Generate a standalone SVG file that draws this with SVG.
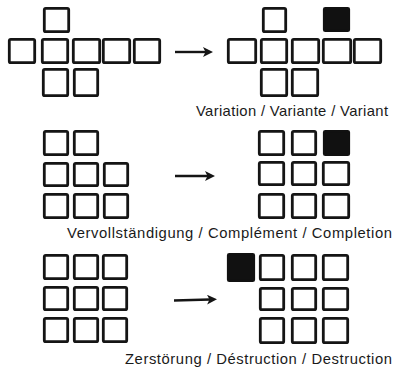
<svg xmlns="http://www.w3.org/2000/svg" width="396" height="371" viewBox="0 0 396 371">
<defs>
<style>
.b{fill:none;stroke:#151515;stroke-width:2.8;stroke-linejoin:round}
.k{fill:#111;stroke:#111;stroke-width:2.8;stroke-linejoin:round}
.c{stroke:#151515;stroke-width:2.4;fill:none}
.t{font-family:"Liberation Sans",Arial,Helvetica,sans-serif;font-size:14.8px;fill:#1a1a1a}
</style>
<marker id="ah" markerUnits="userSpaceOnUse" markerWidth="12" markerHeight="11" refX="3" refY="5" orient="auto">
<path d="M0,0 L10,5 L0,10 L2.5,5 z" fill="#151515"/>
</marker>
</defs>
<rect width="396" height="371" fill="#fff"/>

<g id="variation-before">
<rect class="b" x="44.3" y="8.3" width="24.4" height="23.4" rx="1.5"/>
<rect class="b" x="9.3" y="39.3" width="25.4" height="23.4" rx="1.5"/>
<rect class="b" x="42.3" y="39.3" width="25.4" height="23.4" rx="1.5"/>
<rect class="b" x="73.3" y="39.3" width="26.4" height="23.4" rx="1.5"/>
<rect class="b" x="103.3" y="39.3" width="26.4" height="23.4" rx="1.5"/>
<rect class="b" x="134.3" y="39.3" width="25.4" height="23.4" rx="1.5"/>
<rect class="b" x="43.3" y="69.3" width="24.4" height="26.4" rx="1.5"/>
<rect class="b" x="74.3" y="69.3" width="23.4" height="26.4" rx="1.5"/>
</g>

<g id="variation-after">
<rect class="b" x="263.3" y="8.3" width="22.4" height="23.4" rx="1.5"/>
<rect class="k" x="324.3" y="8.3" width="24.4" height="22.4" rx="1"/>
<rect class="b" x="228.3" y="39.3" width="27.4" height="23.4" rx="1.5"/>
<rect class="b" x="261.3" y="39.3" width="25.4" height="23.4" rx="1.5"/>
<rect class="b" x="292.3" y="39.3" width="26.4" height="23.4" rx="1.5"/>
<rect class="b" x="323.3" y="39.3" width="27.4" height="23.4" rx="1.5"/>
<rect class="b" x="354.3" y="39.3" width="26.4" height="23.4" rx="1.5"/>
<rect class="b" x="261.3" y="69.3" width="25.4" height="26.4" rx="1.5"/>
<rect class="b" x="292.3" y="69.3" width="25.4" height="26.4" rx="1.5"/>
</g>
<text id="label-variation" class="t" x="196" y="116" textLength="192" lengthAdjust="spacing">Variation / Variante / Variant</text>

<g id="completion-before">
<rect class="b" x="44.3" y="131.3" width="23.4" height="23.4" rx="1.5"/>
<rect class="b" x="74.3" y="131.3" width="23.4" height="23.4" rx="1.5"/>
<rect class="b" x="44.3" y="163.3" width="23.4" height="22.4" rx="1.5"/>
<rect class="b" x="74.3" y="163.3" width="23.4" height="22.4" rx="1.5"/>
<rect class="b" x="104.3" y="163.3" width="23.4" height="22.4" rx="1.5"/>
<rect class="b" x="44.3" y="194.3" width="23.4" height="23.4" rx="1.5"/>
<rect class="b" x="74.3" y="194.3" width="23.4" height="23.4" rx="1.5"/>
<rect class="b" x="104.3" y="194.3" width="23.4" height="23.4" rx="1.5"/>
</g>

<g id="completion-after">
<rect class="b" x="259.3" y="131.3" width="24.4" height="23.4" rx="1.5"/>
<rect class="b" x="292.3" y="131.3" width="23.4" height="23.4" rx="1.5"/>
<rect class="k" x="324.3" y="131.3" width="24.4" height="23.4" rx="1"/>
<rect class="b" x="259.3" y="162.3" width="24.4" height="22.4" rx="1.5"/>
<rect class="b" x="292.3" y="162.3" width="23.4" height="22.4" rx="1.5"/>
<rect class="b" x="323.3" y="162.3" width="25.4" height="22.4" rx="1.5"/>
<rect class="b" x="259.3" y="194.3" width="24.4" height="23.4" rx="1.5"/>
<rect class="b" x="292.3" y="194.3" width="23.4" height="23.4" rx="1.5"/>
<rect class="b" x="323.3" y="194.3" width="25.4" height="23.4" rx="1.5"/>
</g>
<text id="label-completion" class="t" x="67" y="238" textLength="325" lengthAdjust="spacing">Vervollständigung / Complément / Completion</text>

<g id="destruction-before">
<rect class="b" x="44.3" y="255.3" width="23.4" height="23.4" rx="1.5"/>
<rect class="b" x="74.3" y="255.3" width="23.4" height="23.4" rx="1.5"/>
<rect class="b" x="103.3" y="255.3" width="23.4" height="23.4" rx="1.5"/>
<rect class="b" x="44.3" y="287.3" width="23.4" height="22.4" rx="1.5"/>
<rect class="b" x="74.3" y="287.3" width="23.4" height="22.4" rx="1.5"/>
<rect class="b" x="103.3" y="287.3" width="23.4" height="22.4" rx="1.5"/>
<rect class="b" x="44.3" y="318.3" width="23.4" height="23.4" rx="1.5"/>
<rect class="b" x="74.3" y="318.3" width="23.4" height="23.4" rx="1.5"/>
<rect class="b" x="103.3" y="318.3" width="23.4" height="23.4" rx="1.5"/>
</g>

<g id="destruction-after">
<rect class="k" x="228.3" y="254.3" width="25.4" height="26.4" rx="1"/>
<rect class="b" x="260.3" y="255.3" width="23.4" height="24.4" rx="1.5"/>
<rect class="b" x="292.3" y="255.3" width="23.4" height="24.4" rx="1.5"/>
<rect class="b" x="323.3" y="255.3" width="24.4" height="24.4" rx="1.5"/>
<rect class="b" x="260.3" y="288.3" width="23.4" height="21.4" rx="1.5"/>
<rect class="b" x="292.3" y="288.3" width="23.4" height="21.4" rx="1.5"/>
<rect class="b" x="323.3" y="288.3" width="24.4" height="21.4" rx="1.5"/>
<rect class="b" x="260.3" y="318.3" width="23.4" height="24.4" rx="1.5"/>
<rect class="b" x="292.3" y="318.3" width="23.4" height="24.4" rx="1.5"/>
<rect class="b" x="323.3" y="318.3" width="24.4" height="24.4" rx="1.5"/>
</g>
<text id="label-destruction" class="t" x="125" y="364" textLength="267" lengthAdjust="spacing">Zerstörung / Déstruction / Destruction</text>

<g id="connectors">
<line class="c" x1="175" y1="52" x2="206" y2="52" marker-end="url(#ah)"/>
<line class="c" x1="175" y1="176" x2="208" y2="176" marker-end="url(#ah)"/>
<line class="c" x1="174" y1="300.5" x2="210" y2="299.5" marker-end="url(#ah)"/>
</g>
</svg>
